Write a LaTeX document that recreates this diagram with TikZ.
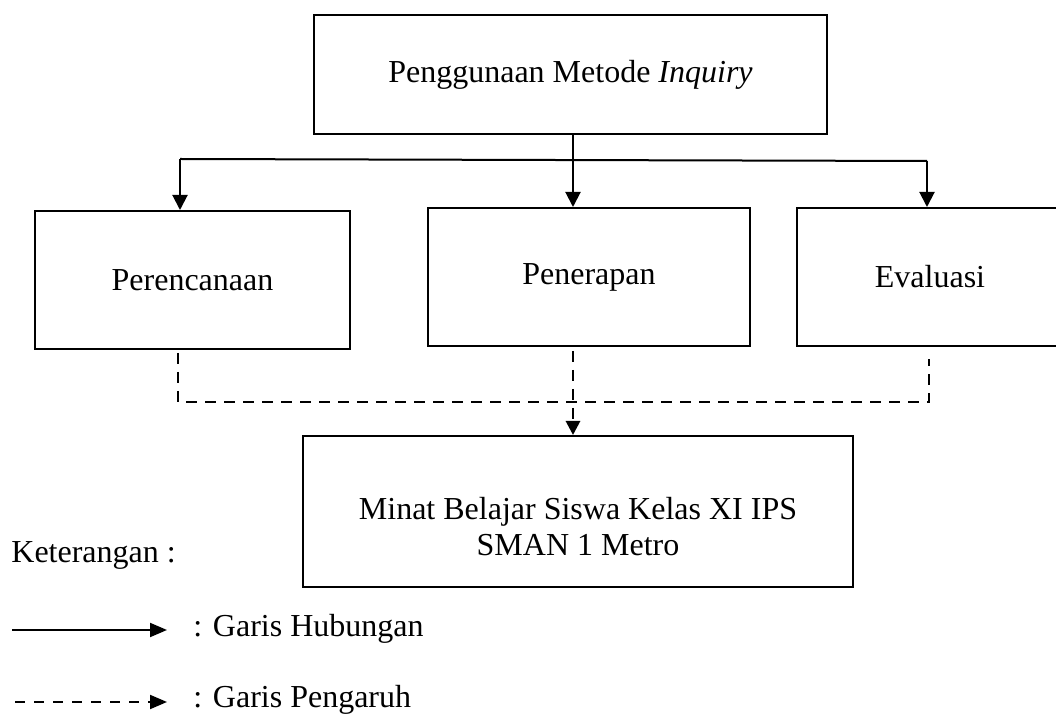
\documentclass[tikz,border=0pt]{standalone}
\usepackage{fontspec}
\setmainfont{Liberation Serif}
\usetikzlibrary{arrows.meta}
\begin{document}
\begin{tikzpicture}[x=0.5pt,y=-0.5pt,
  box/.style={draw, line width=1pt, rectangle, inner sep=0pt, align=center, font=\fontsize{16}{18}\selectfont},
  txt/.style={inner sep=0pt, align=center, font=\fontsize{16}{18}\selectfont},
  plain/.style={line width=1pt},
  rel/.style={line width=1pt, -{Triangle[length=7.5pt,width=7.5pt]}},
  infl/.style={line width=1.4pt, dash pattern=on 5.5pt off 4pt},
  inflarrow/.style={infl, -{Triangle[length=7pt,width=7pt]}},
  legarrow/.style={line width=1pt, -{Triangle[length=8.5pt,width=7pt]}}]
\useasboundingbox (0,0) rectangle (1056,716);

% boxes
\node[box, minimum width=256.5pt, minimum height=59.5pt] (top) at (570.5,74.5) {Penggunaan Metode \textit{Inquiry}};
\node[box, minimum width=157.5pt, minimum height=69pt] (pe) at (192.5,280) {Perencanaan};
\node[box, minimum width=161pt, minimum height=69pt] (pn) at (589,277) {Penerapan};
\node[box, minimum width=133pt, minimum height=69pt] (ev) at (930,277) {Evaluasi};
\node[box, minimum width=275pt, minimum height=75.5pt] (bot) at (578,511.5) {};
\node[txt] (bottxt) at (578,527) {Minat Belajar Siswa Kelas XI IPS\\SMAN 1 Metro};

% solid connectors
\coordinate (hl) at (180,159);
\coordinate (hr) at (927,161);
\coordinate (tm) at (573,134);
\draw[plain] (hl) -- (hr);
\draw[rel] (tm) -- (tm |- pn.north);
\draw[rel] (hl) -- (hl |- pe.north);
\draw[rel] (hr) -- (hr |- ev.north);

% dashed connectors
\coordinate (dl) at (178,353);
\coordinate (dc) at (929,402);
\coordinate (dr) at (929,359);
\coordinate (dm) at (573,351);
\draw[infl] (dl) |- (dc) -- (dr);
\draw[inflarrow] (dm) -- (dm |- bot.north);

% legend
\node[txt, anchor=base west] (ket) at (11,563) {Keterangan :};
\node[txt, anchor=base west] (g1) at (193,637) {: Garis Hubungan};
\node[txt, anchor=base west] (g2) at (193,708) {: Garis Pengaruh};
\coordinate (l1a) at (12,630);
\coordinate (l1b) at (167,630);
\coordinate (l2a) at (15,702);
\coordinate (l2b) at (167,702);
\draw[legarrow] (l1a) -- (l1b);
\draw[legarrow, dash pattern=on 5pt off 4.5pt] (l2a) -- (l2b);
\end{tikzpicture}
\end{document}
